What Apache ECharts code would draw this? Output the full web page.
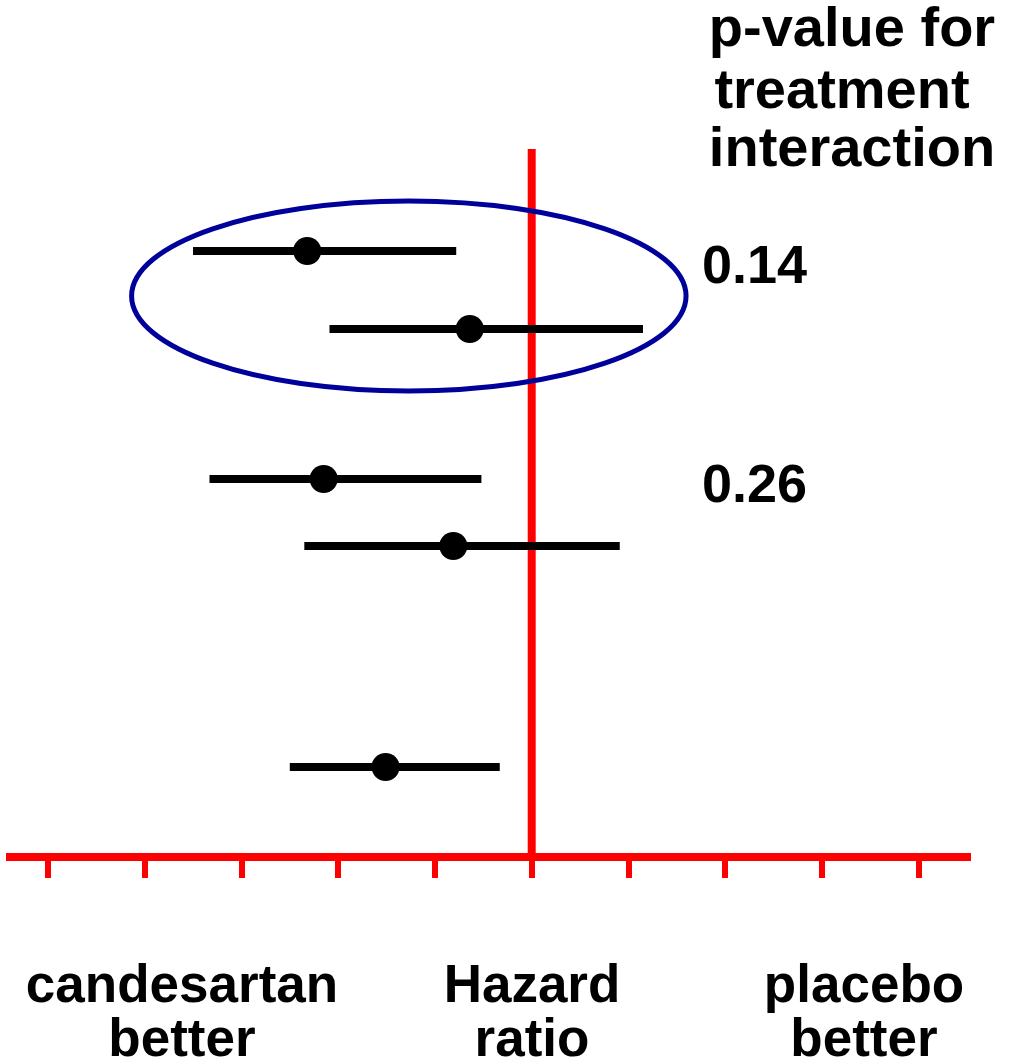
<!DOCTYPE html>
<html>
<head>
<meta charset="utf-8">
<title>Hazard ratio forest plot</title>
<script src="https://cdn.jsdelivr.net/npm/echarts@6/dist/echarts.min.js"></script>
<style>
  html, body { margin: 0; padding: 0; background: #ffffff; }
  #chart { width: 1015px; height: 1060px; }
</style>
</head>
<body>
<div id="chart"></div>
<script>
// Subgroup rows: vertical position, hazard ratio and 95% CI
const rowPos  = [6.06, 5.28, 3.78, 3.11, 0.90];
const hrLow   = [0.650, 0.791, 0.667, 0.765, 0.750];
const hrPoint = [0.768, 0.936, 0.785, 0.919, 0.849];
const hrHigh  = [0.922, 1.115, 0.948, 1.091, 0.967];

// Hazard-ratio tick marks (unlabelled)
const axisTicks = [0.5, 0.6, 0.7, 0.8, 0.9, 1.0, 1.1, 1.2, 1.3, 1.4];

// Interaction p-values
const pValues = ['0.14', '0.26'];

// Highlighted pair of subgroups (centre and half-extents in data units)
const highlight = { hr: 0.873, y: 5.61, hrRadius: 0.2865, yRadius: 0.95 };

const FONT = '"Liberation Sans", Arial, Helvetica, sans-serif';
const RED = '#ff0000';

const rows = rowPos.map((y, i) => [hrLow[i], hrPoint[i], hrHigh[i], y]);

const chart = echarts.init(document.getElementById('chart'), null, { renderer: 'canvas' });

function txt(text, x, y, size, align) {
  return {
    type: 'text',
    x: x, y: y,
    z: 10,
    style: {
      text: text,
      fill: '#000000',
      font: 'bold ' + size + 'px ' + FONT,
      align: align || 'center',
      verticalAlign: 'middle'
    }
  };
}

const labels = [
  txt('p-value for', 852, 31, 56),
  txt('treatment', 842, 93, 56),
  txt('interaction', 852, 151, 56),
  txt(pValues[0], 702, 268, 54, 'left'),
  txt(pValues[1], 702, 487, 54, 'left'),
  txt('candesartan', 182, 987, 53),
  txt('better', 182, 1041, 53),
  txt('Hazard', 532, 987, 53),
  txt('ratio', 532, 1041, 53),
  txt('placebo', 864, 987, 53),
  txt('better', 864, 1041, 53)
];

chart.setOption({
  animation: false,
  backgroundColor: '#ffffff',
  grid: { left: 6, right: 44, top: 149, bottom: 203, containLabel: false },
  xAxis: {
    type: 'value',
    min: 0.4567,
    max: 1.454,
    splitLine: { show: false },
    axisLabel: { show: false },
    axisLine: { show: true, onZero: false, lineStyle: { color: RED, width: 8, cap: 'butt' } },
    axisTick: {
      show: true,
      customValues: axisTicks,
      length: 21,
      lineStyle: { color: RED, width: 6 }
    }
  },
  yAxis: {
    type: 'value',
    min: 0,
    max: 7.08,
    show: false,
    splitLine: { show: false }
  },
  series: [
    {
      // line of no effect
      type: 'line',
      data: [[1, 0], [1, 7.08]],
      symbol: 'none',
      silent: true,
      lineStyle: { color: RED, width: 8 },
      z: 1
    },
    {
      type: 'custom',
      data: rows,
      z: 3,
      renderItem: function (params, api) {
        const y = api.value(3);
        const a = api.coord([api.value(0), y]);
        const p = api.coord([api.value(1), y]);
        const b = api.coord([api.value(2), y]);
        return {
          type: 'group',
          children: [
            {
              type: 'line',
              shape: { x1: a[0], y1: a[1], x2: b[0], y2: b[1] },
              style: { stroke: '#000000', lineWidth: 8, lineCap: 'butt' }
            },
            {
              type: 'circle',
              shape: { cx: p[0], cy: p[1], r: 14 },
              style: { fill: '#000000' }
            }
          ]
        };
      }
    }
  ],
  graphic: labels
});

// Outline around the highlighted pair, placed through the axes
const c = chart.convertToPixel({ gridIndex: 0 }, [highlight.hr, highlight.y]);
const e = chart.convertToPixel({ gridIndex: 0 }, [highlight.hr + highlight.hrRadius, highlight.y - highlight.yRadius]);
chart.setOption({
  graphic: labels.concat([{
    type: 'ellipse',
    z: 5,
    shape: { cx: c[0], cy: c[1], rx: e[0] - c[0], ry: e[1] - c[1] },
    style: { fill: 'none', stroke: '#00009a', lineWidth: 5 }
  }])
});
</script>
</body>
</html>
